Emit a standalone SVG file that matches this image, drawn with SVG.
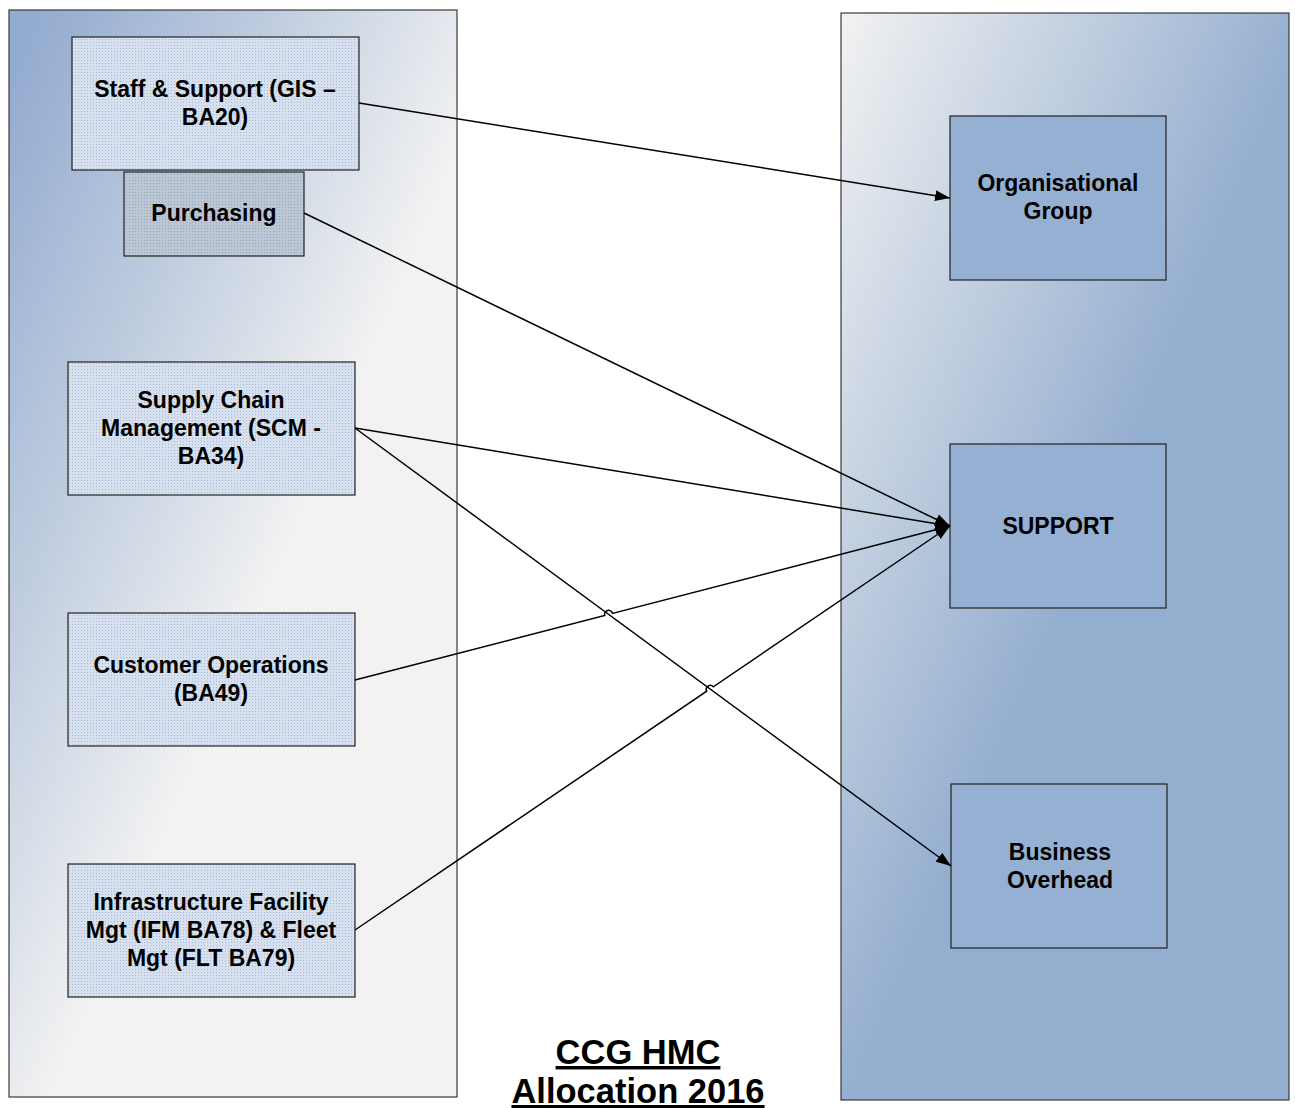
<svg xmlns="http://www.w3.org/2000/svg" width="1295" height="1108" viewBox="0 0 1295 1108">
<defs>
<linearGradient id="gLeft" gradientUnits="userSpaceOnUse" x1="38" y1="23" x2="439" y2="196">
<stop offset="0" stop-color="#94acd0"/>
<stop offset="0.45" stop-color="#bccade"/>
<stop offset="1" stop-color="#f2f2f2"/>
</linearGradient>
<linearGradient id="gRight" gradientUnits="userSpaceOnUse" x1="841" y1="13" x2="1245" y2="186">
<stop offset="0" stop-color="#f2f2f2"/>
<stop offset="1" stop-color="#94aecf"/>
</linearGradient>
<pattern id="dotsLight" width="3" height="3" patternUnits="userSpaceOnUse">
<rect width="3" height="3" fill="#d6e0ee"/>
<rect width="1" height="1" fill="#a8bad5"/>
</pattern>
<pattern id="dotsDark" width="3" height="3" patternUnits="userSpaceOnUse">
<rect width="3" height="3" fill="#bcc7d6"/>
<rect width="1" height="1" fill="#97a6ba"/>
</pattern>
<marker id="arr" viewBox="0 0 15 12" refX="15" refY="6" markerWidth="15" markerHeight="12" markerUnits="userSpaceOnUse" orient="auto">
<path d="M0,0.5 L15,6 L0,11.5 z" fill="#000"/>
</marker>
</defs>
<style>
.panel{stroke:#3a3a3a;stroke-width:1.2}
.nl{fill:url(#dotsLight);stroke:#222;stroke-width:1.2}
.nd{fill:url(#dotsDark);stroke:#222;stroke-width:1.2}
.nr{fill:#95b0d3;stroke:#222;stroke-width:1.2}
.t{font-family:"Liberation Sans",Arial,sans-serif;font-weight:bold;font-size:23px;text-anchor:middle;fill:#000}
.title{font-family:"Liberation Sans",Arial,sans-serif;font-weight:bold;font-size:34.5px;text-anchor:middle;fill:#000;text-decoration:underline}
.c{fill:none;stroke:#000;stroke-width:1.5}
</style>
<rect class="panel" x="9" y="10" width="448" height="1087" fill="url(#gLeft)"/>
<rect class="panel" x="841" y="13" width="448" height="1087" fill="url(#gRight)"/>

<g id="staff">
<rect class="nl" x="72" y="37" width="287" height="133"/>
<text class="t" x="215" y="97">Staff &amp; Support (GIS –</text>
<text class="t" x="215" y="125">BA20)</text>
</g>
<g id="purchasing">
<rect class="nd" x="124" y="172" width="180" height="84"/>
<text class="t" x="214" y="221">Purchasing</text>
</g>
<g id="scm">
<rect class="nl" x="68" y="362" width="287" height="133"/>
<text class="t" x="211" y="408">Supply Chain</text>
<text class="t" x="211" y="436">Management (SCM -</text>
<text class="t" x="211" y="464">BA34)</text>
</g>
<g id="custops">
<rect class="nl" x="68" y="613" width="287" height="133"/>
<text class="t" x="211" y="673">Customer Operations</text>
<text class="t" x="211" y="701">(BA49)</text>
</g>
<g id="infra">
<rect class="nl" x="68" y="864" width="287" height="133"/>
<text class="t" x="211" y="910">Infrastructure Facility</text>
<text class="t" x="211" y="938">Mgt (IFM BA78) &amp; Fleet</text>
<text class="t" x="211" y="966">Mgt (FLT BA79)</text>
</g>
<g id="orggroup">
<rect class="nr" x="950" y="116" width="216" height="164"/>
<text class="t" x="1058" y="191">Organisational</text>
<text class="t" x="1058" y="219">Group</text>
</g>
<g id="support">
<rect class="nr" x="950" y="444" width="216" height="164"/>
<text class="t" x="1058" y="534">SUPPORT</text>
</g>
<g id="bizoverhead">
<rect class="nr" x="951" y="784" width="216" height="164"/>
<text class="t" x="1060" y="860">Business</text>
<text class="t" x="1060" y="888">Overhead</text>
</g>

<g id="connectors">
<path class="c" d="M359,103 L950,198" marker-end="url(#arr)"/>
<path class="c" d="M304,213 L950,526" marker-end="url(#arr)"/>
<path class="c" d="M355,428 L950,526" marker-end="url(#arr)"/>
<path class="c" d="M355,428 L951,866" marker-end="url(#arr)"/>
<path class="c" d="M355,680 L604.7,615.4 A4,4 0 0 1 612.5,613.4 L950,526" marker-end="url(#arr)"/>
<path class="c" d="M355,930 L706.7,691.2 A4,4 0 0 1 713.3,686.8 L950,526" marker-end="url(#arr)"/>
</g>

<g id="title">
<text class="title" x="638" y="1064">CCG HMC</text>
<text class="title" x="638" y="1103">Allocation 2016</text>
</g>
</svg>
